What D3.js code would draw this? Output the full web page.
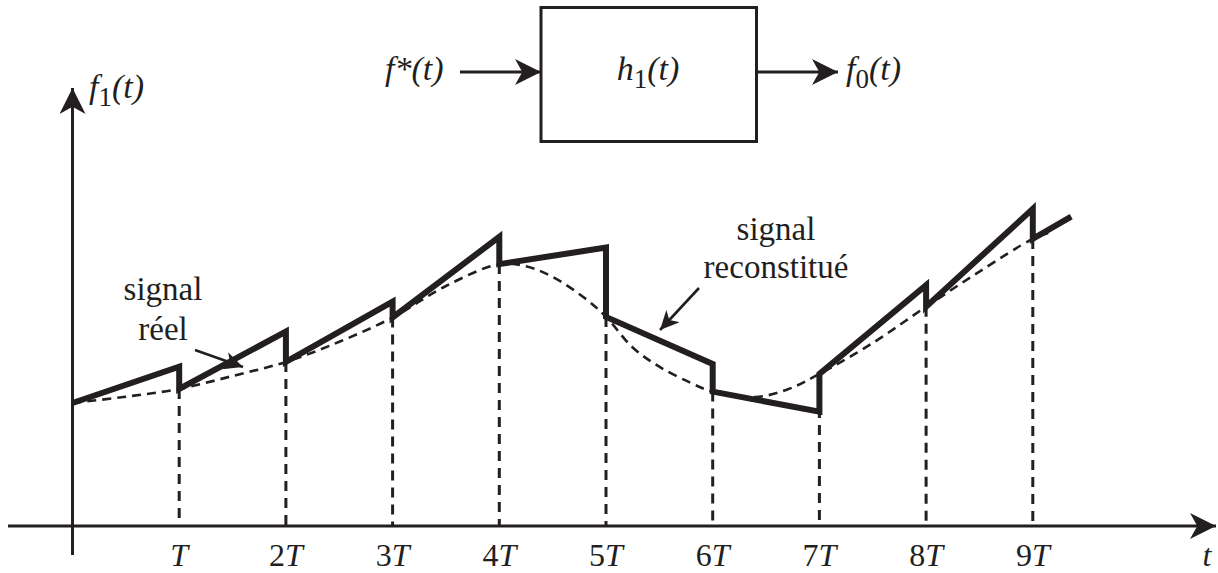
<!DOCTYPE html>
<html>
<head>
<meta charset="utf-8">
<script src="https://cdn.jsdelivr.net/npm/d3@7"></script>
<style>
  html, body { margin: 0; padding: 0; background: #fff; }
  svg { display: block; }
  text { font-family: "Liberation Serif", "Times New Roman", serif; fill: #231f20; }
</style>
</head>
<body>
<svg id="svg" width="1218" height="573"></svg>
<script>
// sampling instants k (in units of T) and their tick labels
const ticks = [1, 2, 3, 4, 5, 6, 7, 8, 9];
const tickLabels = ["", "2", "3", "4", "5", "6", "7", "8", "9"];

const realT = [0, 0.5, 1, 1.5, 2, 2.5, 3, 3.5, 4, 4.25, 4.5, 4.8, 5, 5.25, 5.5, 5.8, 6, 6.4, 6.7, 7, 7.5, 8, 8.5, 9, 9.18];
const realV = [4.10, 4.31, 4.57, 5.0, 5.47, 6.14, 6.95, 8.0, 8.73, 8.66, 8.3, 7.6, 6.97, 5.95, 5.31, 4.76, 4.48, 4.3, 4.55, 5.07, 6.1, 7.31, 8.48, 9.57, 9.81];

// samples f(kT), k = 0..9
const samples = [4.10, 4.57, 5.47, 6.95, 8.73, 6.97, 4.48, 5.07, 7.31, 9.57];
// value reached by the reconstructed signal at the end of each interval [kT, (k+1)T]
const holdEnd = [5.31, 6.48, 7.48, 9.64, 9.28, 5.40, 3.81, 8.03, 10.57];
// last open piece after 9T
const tailT = 9.36, tailV = 10.31;

const ink = "#231f20";
const serif = "'Liberation Serif', 'Times New Roman', serif";
const svg = d3.select("#svg");

const x = d3.scaleLinear().domain([0, 10]).range([72.5, 1139.5]);
const y = d3.scaleLinear().domain([0, 10]).range([526, 226]);

// arrowheads
const defs = svg.append("defs");
function marker(id, len, half) {
    defs.append("marker")
        .attr("id", id)
        .attr("markerUnits", "userSpaceOnUse")
        .attr("viewBox", `${-len} ${-half} ${len} ${half * 2}`)
        .attr("refX", 0).attr("refY", 0)
        .attr("markerWidth", len).attr("markerHeight", half * 2)
        .attr("orient", "auto")
        .append("path")
        .attr("d", `M0,0 L${-len},${-half} L${-len * 0.72},0 L${-len},${half} Z`)
        .attr("fill", ink);
}
marker("big", 26, 13);
marker("small", 19, 9);

// axes
const x0 = x(0), y0 = y(0);
svg.append("line")
    .attr("x1", 8).attr("y1", y0).attr("x2", 1216).attr("y2", y0)
    .attr("stroke", ink).attr("stroke-width", 3)
    .attr("marker-end", "url(#big)");
svg.append("line")
    .attr("x1", x0).attr("y1", 555).attr("x2", x0).attr("y2", 88)
    .attr("stroke", ink).attr("stroke-width", 3)
    .attr("marker-end", "url(#big)");

// sampling lines
svg.append("g").selectAll("line")
    .data(ticks)
    .join("line")
    .attr("x1", d => x(d)).attr("x2", d => x(d))
    .attr("y1", d => y(samples[d])).attr("y2", y0)
    .attr("stroke", ink).attr("stroke-width", 3)
    .attr("stroke-dasharray", "10,7");

// tick labels
const tl = svg.append("g").selectAll("text")
    .data(ticks)
    .join("text")
    .attr("x", d => x(d))
    .attr("y", 566)
    .attr("text-anchor", "middle")
    .attr("font-family", serif)
    .attr("font-size", 32);
tl.append("tspan").text((d, i) => tickLabels[i]);
tl.append("tspan").attr("font-style", "italic").text("T");

svg.append("text")
    .attr("x", 1207).attr("y", 566)
    .attr("text-anchor", "middle")
    .attr("font-family", serif)
    .attr("font-size", 32).attr("font-style", "italic")
    .text("t");

// real signal (dashed)
const line = d3.line().x(d => x(d[0])).y(d => y(d[1]));
svg.append("path")
    .attr("d", line.curve(d3.curveCatmullRom.alpha(0.5))(realT.map((t, i) => [t, realV[i]])))
    .attr("fill", "none")
    .attr("stroke", ink).attr("stroke-width", 2.6)
    .attr("stroke-dasharray", "9,6");

// reconstructed signal: first order prediction between samples
const rec = [];
holdEnd.forEach((v, k) => {
    rec.push([k, samples[k]]);
    rec.push([k + 1, v]);
});
rec.push([9, samples[9]]);
rec.push([tailT, tailV]);
svg.append("path")
    .attr("d", d3.line().x(d => x(d[0])).y(d => y(d[1]))(rec))
    .attr("fill", "none")
    .attr("stroke", ink).attr("stroke-width", 6)
    .attr("stroke-linejoin", "miter")
    .attr("stroke-miterlimit", 10);

// annotations
function label(lines, cx, by, gap) {
    const t = svg.append("text")
        .attr("text-anchor", "middle")
        .attr("font-family", serif)
        .attr("font-size", 33);
    lines.forEach((s, i) => {
        t.append("tspan").attr("x", cx).attr("y", by + i * gap).text(s);
    });
}
label(["signal", "réel"], 163, 300, 40);
svg.append("line")
    .attr("x1", 195).attr("y1", 350).attr("x2", 243).attr("y2", 367)
    .attr("stroke", ink).attr("stroke-width", 2.6)
    .attr("marker-end", "url(#small)");

label(["signal", "reconstitué"], 776, 240, 38);
svg.append("line")
    .attr("x1", 699).attr("y1", 288).attr("x2", 660).attr("y2", 330)
    .attr("stroke", ink).attr("stroke-width", 2.6)
    .attr("marker-end", "url(#small)");

// f1(t)
const f1 = svg.append("text").attr("x", 89).attr("y", 98)
    .attr("font-family", serif).attr("font-size", 34);
f1.append("tspan").attr("font-style", "italic").text("f");
f1.append("tspan").attr("font-size", 27).attr("dy", 8).text("1");
f1.append("tspan").attr("font-style", "italic").attr("dy", -8).text("(t)");

// block diagram
svg.append("rect")
    .attr("x", 541).attr("y", 7.5).attr("width", 215.5).attr("height", 134)
    .attr("fill", "none").attr("stroke", ink).attr("stroke-width", 3);
svg.append("line")
    .attr("x1", 460).attr("y1", 72).attr("x2", 541).attr("y2", 72)
    .attr("stroke", ink).attr("stroke-width", 3)
    .attr("marker-end", "url(#big)");
svg.append("line")
    .attr("x1", 757).attr("y1", 72).attr("x2", 838).attr("y2", 72)
    .attr("stroke", ink).attr("stroke-width", 3)
    .attr("marker-end", "url(#big)");

svg.append("text").attr("x", 385).attr("y", 80)
    .attr("font-family", serif).attr("font-size", 34)
    .attr("font-style", "italic").text("f*(t)");

const h1 = svg.append("text").attr("x", 648).attr("y", 80)
    .attr("font-family", serif).attr("font-size", 34)
    .attr("text-anchor", "middle");
h1.append("tspan").attr("font-style", "italic").text("h");
h1.append("tspan").attr("font-size", 27).attr("dy", 8).text("1");
h1.append("tspan").attr("font-style", "italic").attr("dy", -8).text("(t)");

const f0 = svg.append("text").attr("x", 846).attr("y", 80)
    .attr("font-family", serif).attr("font-size", 34);
f0.append("tspan").attr("font-style", "italic").text("f");
f0.append("tspan").attr("font-size", 27).attr("dy", 8).text("0");
f0.append("tspan").attr("font-style", "italic").attr("dy", -8).text("(t)");
</script>
</body>
</html>
